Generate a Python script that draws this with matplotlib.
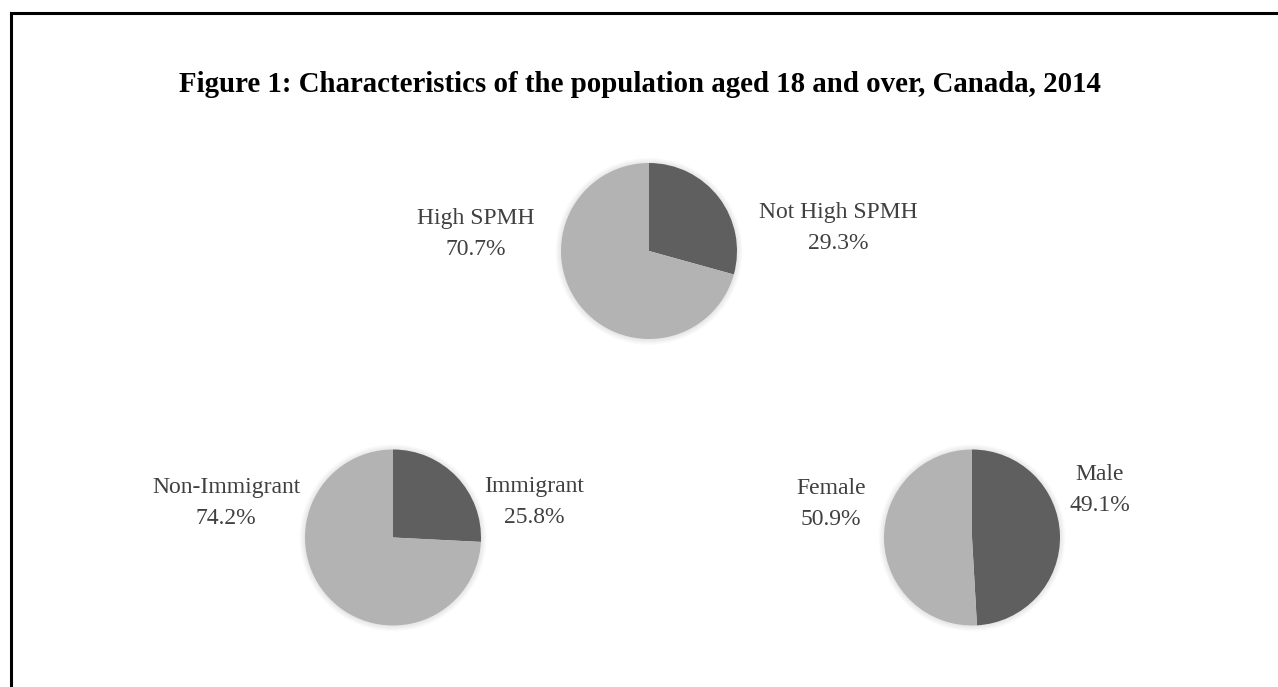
import matplotlib
matplotlib.use("Agg")
import matplotlib.pyplot as plt
from matplotlib.lines import Line2D
from matplotlib.patches import Circle

W, H = 1278, 687
DPI = 100

title = "Figure 1: Characteristics of the population aged 18 and over, Canada, 2014"

# Each chart: (dark slice, light slice)
spmh_labels = ["Not High SPMH", "High SPMH"]
spmh_values = [29.3, 70.7]
imm_labels = ["Immigrant", "Non-Immigrant"]
imm_values = [25.8, 74.2]
sex_labels = ["Male", "Female"]
sex_values = [49.1, 50.9]

DARK = "#5f5f5f"
LIGHT = "#b3b3b3"
TEXT = "#404040"
SERIF = ["Liberation Serif", "DejaVu Serif"]

fig = plt.figure(figsize=(W / DPI, H / DPI), dpi=DPI)
fig.patch.set_facecolor("white")


def px(x, y):
    return x / W, 1 - y / H


# border (top and left visible, box extends beyond image)
lw = 2.2
fig.add_artist(Line2D([10.5 / W, 1.01], [1 - 12.5 / H] * 2, color="black", lw=lw,
                      transform=fig.transFigure, solid_capstyle="projecting"))
fig.add_artist(Line2D([10.5 / W] * 2, [1 - 12.5 / H, -0.01], color="black", lw=lw,
                      transform=fig.transFigure, solid_capstyle="projecting"))

fx, fy = px(640, 85)
fig.text(fx, fy, title, ha="center", va="center", fontsize=20.8, fontweight="bold",
         family=SERIF, color="black")

R = 88  # pie radius in px
PAD = 100


def draw_pie(cx, cy, values, labels, pos_dark, pos_light):
    x0, y0 = (cx - PAD) / W, 1 - (cy + PAD) / H
    ax = fig.add_axes([x0, y0, 2 * PAD / W, 2 * PAD / H])
    lim = PAD / R
    ax.set_xlim(-lim, lim)
    ax.set_ylim(-lim, lim)
    ax.set_aspect("equal")
    ax.axis("off")
    # soft shadow
    for k in range(1, 9):
        ax.add_patch(Circle((0.0, -0.004), 1 + k * 0.008, color="black",
                            alpha=0.012, lw=0, zorder=0))
    ax.pie(values, colors=[DARK, LIGHT], startangle=90, counterclock=False,
           radius=1, center=(0, 0), frame=False,
           wedgeprops=dict(linewidth=0))
    ax.set_xlim(-lim, lim)
    ax.set_ylim(-lim, lim)
    for lab, val, pos in zip(labels, values, [pos_dark, pos_light]):
        tx, ty = px(*pos)
        fig.text(tx, ty, f"{lab}\n{val:.1f}%", ha="center", va="center",
                 fontsize=17, family=SERIF, color=TEXT, linespacing=1.6)


draw_pie(649, 251, spmh_values, spmh_labels, (838, 228), (476, 234))
draw_pie(393, 537.5, imm_values, imm_labels, (534, 502), (226, 503))
draw_pie(972, 537.5, sex_values, sex_labels, (1100, 490), (831, 504))

fig.savefig("out.png", dpi=DPI, facecolor="white")
